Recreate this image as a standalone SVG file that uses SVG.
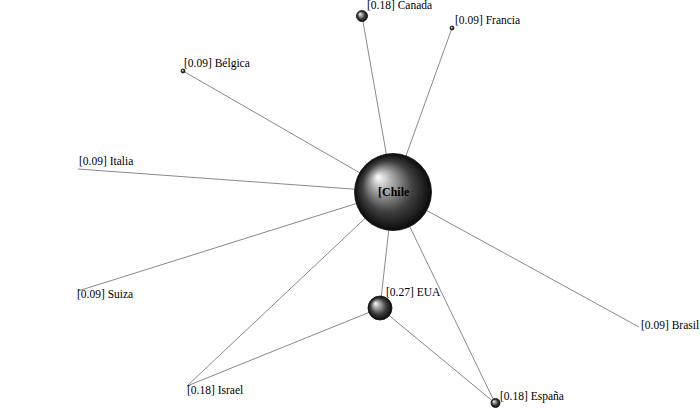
<svg xmlns="http://www.w3.org/2000/svg" width="700" height="415" viewBox="0 0 700 415">
<defs>
<radialGradient id="sph" cx="50%" cy="50%" r="50%" fx="30%" fy="30%">
<stop offset="0" stop-color="#ffffff"/>
<stop offset="0.28" stop-color="#a8a8a8"/>
<stop offset="0.65" stop-color="#404040"/>
<stop offset="1" stop-color="#0a0a0a"/>
</radialGradient>
<style>
.e{stroke:#8a8a8a;stroke-width:1;fill:none}
.n{fill:url(#sph);stroke:#111;stroke-width:0.8}
.t{font-family:"Liberation Serif","Times New Roman",serif;font-size:11.5px;fill:#000}
.b{font-weight:bold;font-size:12px}
</style>
</defs>
<rect width="700" height="415" fill="#fff"/>
<g id="connectors">
<line class="e" x1="393" y1="192" x2="362" y2="16"/>
<line class="e" x1="393" y1="192" x2="452" y2="28"/>
<line class="e" x1="393" y1="192" x2="183" y2="71"/>
<line class="e" x1="393" y1="192" x2="78" y2="169"/>
<line class="e" x1="393" y1="192" x2="78" y2="291"/>
<line class="e" x1="393" y1="192" x2="187" y2="386"/>
<line class="e" x1="393" y1="192" x2="380" y2="308"/>
<line class="e" x1="393" y1="192" x2="495" y2="403"/>
<line class="e" x1="393" y1="192" x2="639" y2="327"/>
<line class="e" x1="380" y1="308" x2="187" y2="386"/>
<line class="e" x1="380" y1="308" x2="495" y2="403"/>
</g>
<g id="node-chile"><circle class="n" cx="393" cy="192" r="38.5"/><text class="t b" x="378" y="196">[Chile</text></g>
<g id="node-canada"><circle class="n" cx="362" cy="16" r="5.5"/><text class="t" x="367" y="9">[0.18] Canada</text></g>
<g id="node-francia"><circle class="n" cx="452" cy="28" r="2"/><text class="t" x="455" y="24">[0.09] Francia</text></g>
<g id="node-belgica"><circle class="n" cx="183" cy="71" r="2"/><text class="t" x="184" y="67">[0.09] Bélgica</text></g>
<g id="node-italia"><text class="t" x="79" y="165">[0.09] Italia</text></g>
<g id="node-suiza"><text class="t" x="77" y="298">[0.09] Suiza</text></g>
<g id="node-eua"><circle class="n" cx="380" cy="308" r="12"/><text class="t" x="386" y="296">[0.27] EUA</text></g>
<g id="node-israel"><text class="t" x="187" y="394">[0.18] Israel</text></g>
<g id="node-espana"><circle class="n" cx="495.5" cy="403" r="4.5"/><text class="t" x="500" y="400">[0.18] España</text></g>
<g id="node-brasil"><text class="t" x="641" y="329">[0.09] Brasil</text></g>
</svg>
